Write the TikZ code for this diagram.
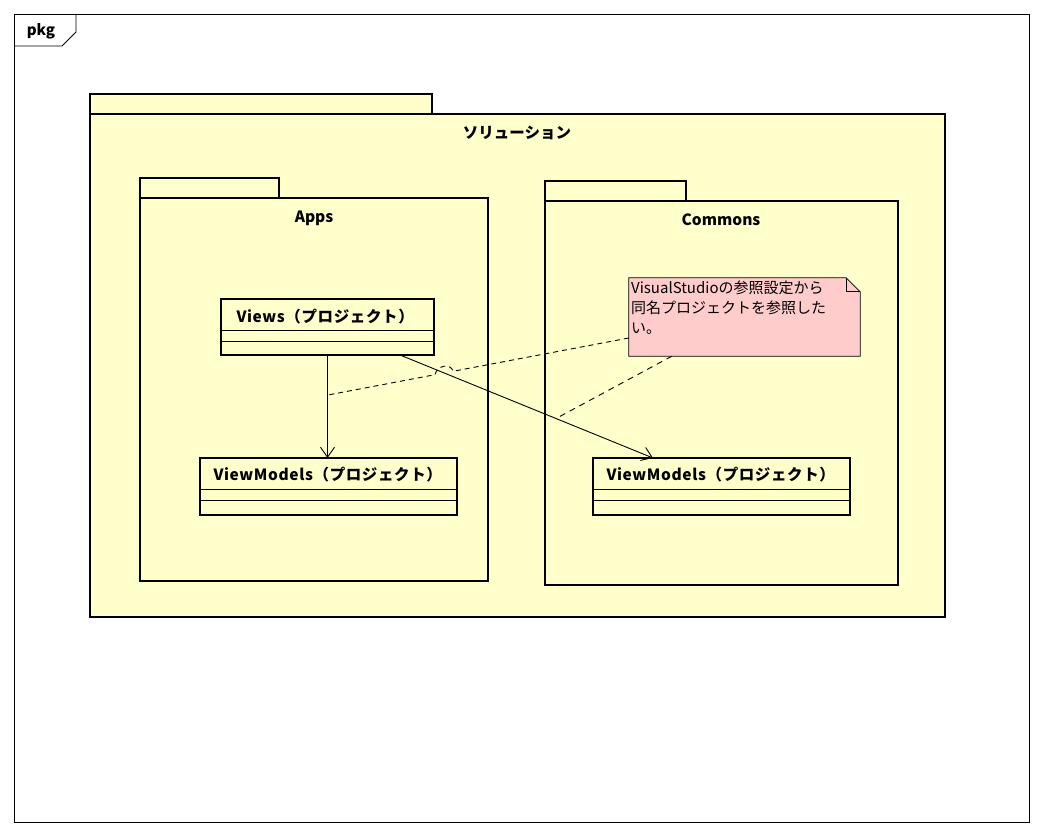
\documentclass[tikz,border=0pt]{standalone}
\usepackage{fontspec}
\setmainfont{Noto Sans CJK JP}
\usepackage{tikz}
\usetikzlibrary{positioning,calc,arrows.meta}

\definecolor{pkgfill}{RGB}{255,255,204}
\definecolor{notefill}{RGB}{255,204,204}

\tikzset{
  pkgbody/.style={draw, line width=2.6pt, fill=pkgfill, inner sep=0pt, outer sep=0pt},
  pkgtab/.style={draw, line width=2.6pt, fill=pkgfill, inner sep=0pt, outer sep=0pt, anchor=south west},
  pkglabel/.style={font=\fontsize{15.5}{18}\selectfont\bfseries},
  classbox/.style={draw, line width=2.6pt, fill=pkgfill, inner sep=0pt, outer sep=0pt},
  classname/.style={font=\fontsize{15.5}{18}\selectfont\bfseries\addfontfeature{LetterSpace=4}, anchor=west},
  dep/.style={line width=0.9pt, -{Straight Barb[length=10pt,width=14pt]}},
  anchorline/.style={line width=0.9pt, dash pattern=on 6pt off 5pt}
}

\begin{document}
\begin{tikzpicture}[x=1pt,y=-1pt]
    \useasboundingbox[fill=white] (0,0) rectangle (1042,834);
    % frame
    \draw[line width=0.8pt] (14,14) rectangle (1029,822);
    \draw[line width=0.8pt] (14,46) -- (62,46) -- (76,32) -- (76,14);
    \node[font=\fontsize{15}{17}\selectfont\bfseries] (pkg) at (41,31) {pkg};

    % packages
    \node[pkgbody, minimum width=855pt, minimum height=503pt] (sol) at (517.5,365.5) {};
    \node[pkgtab, minimum width=342pt, minimum height=20pt] (soltab) at (sol.north west) {};
    \node[pkglabel] (sollabel) at (517,133) {ソリューション};

    \node[pkgbody, minimum width=348pt, minimum height=383pt] (apps) at (314,389.5) {};
    \node[pkgtab, minimum width=139pt, minimum height=20pt] (appstab) at (apps.north west) {};
    \node[pkglabel] (appslabel) at (314,218) {Apps};

    \node[pkgbody, minimum width=353pt, minimum height=384pt] (commons) at (721.5,393) {};
    \node[pkgtab, minimum width=141pt, minimum height=20pt] (commonstab) at (commons.north west) {};
    \node[pkglabel] (commonslabel) at (721,220) {Commons};

    % classes
    \node[classbox, minimum width=213pt, minimum height=56pt] (views) at (327.5,327) {};
    \draw[line width=0.8pt] ($(views.north west)+(0,31)$) -- ($(views.north east)+(0,31)$);
    \draw[line width=0.8pt] ($(views.north west)+(0,42)$) -- ($(views.north east)+(0,42)$);
    \node[classname] (viewsname) at (233,317) {Views（プロジェクト）};

    \node[classbox, minimum width=257pt, minimum height=57pt] (vml) at (328.5,486.5) {};
    \draw[line width=0.8pt] ($(vml.north west)+(0,31)$) -- ($(vml.north east)+(0,31)$);
    \draw[line width=0.8pt] ($(vml.north west)+(0,42)$) -- ($(vml.north east)+(0,42)$);
    \node[classname] (vmlname) at (210,475) {ViewModels（プロジェクト）};

    \node[classbox, minimum width=257pt, minimum height=57pt] (vmr) at (721.5,486.5) {};
    \draw[line width=0.8pt] ($(vmr.north west)+(0,31)$) -- ($(vmr.north east)+(0,31)$);
    \draw[line width=0.8pt] ($(vmr.north west)+(0,42)$) -- ($(vmr.north east)+(0,42)$);
    \node[classname] (vmrname) at (603,475) {ViewModels（プロジェクト）};

    % dependencies
    \draw[dep] (views.south) -- (views.south |- vml.north);
    \draw[dep] ([xshift=-34pt]views.south east) -- ([xshift=60pt]vmr.north west);

    % note
    \node[inner sep=0pt, minimum width=231pt, minimum height=78pt] (note) at (744.5,317) {};
    \draw[line width=0.8pt, fill=notefill] (note.north west) -- ([xshift=-14pt]note.north east)
        -- ([yshift=-14pt]note.north east) -- (note.south east) -- (note.south west) -- cycle;
    \draw[line width=0.8pt] ([xshift=-14pt]note.north east) -- ([xshift=-14pt,yshift=-14pt]note.north east)
        -- ([yshift=-14pt]note.north east);
    \node[anchor=north west, align=left, inner sep=0pt, font=\fontsize{15}{20}\selectfont] (notetext)
        at (631,281) {VisualStudioの参照設定から\\同名プロジェクトを参照した\\い。};

    % note anchors
    \coordinate (a1) at (328,395);
    \coordinate (a2) at (557,418);
    \draw[anchorline, dash pattern=on 5pt off 4pt] ([yshift=-21pt]note.west) -- (453,371.3)
        .. controls (451,363) and (437,365) .. (435,374.7) -- (a1);
    \draw[anchorline] ([xshift=43pt]note.south west) -- (a2);
\end{tikzpicture}
\end{document}
